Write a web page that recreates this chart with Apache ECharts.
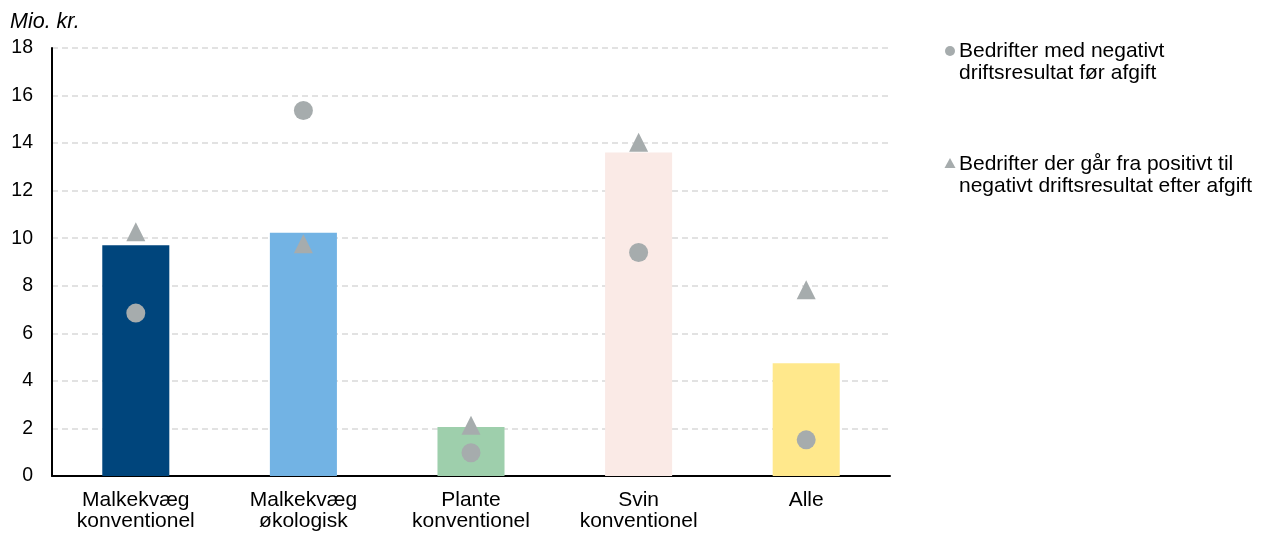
<!DOCTYPE html>
<html>
<head>
<meta charset="utf-8">
<script src="https://cdn.jsdelivr.net/npm/echarts@6/dist/echarts.min.js"></script>
<style>
html,body{margin:0;padding:0;background:#fff;}
#c{width:1263px;height:536px;}
</style>
</head>
<body>
<div id="c"></div>
<script>
const categories = ['Malkekvæg\nkonventionel', 'Malkekvæg\nøkologisk', 'Plante\nkonventionel', 'Svin\nkonventionel', 'Alle'];
const barValues = [9.70, 10.23, 2.06, 13.61, 4.74];
const barColors = ['#00457C', '#72B3E4', '#9ECFAC', '#FAEAE6', '#FFE88C'];
const negativeBefore = [6.85, 15.37, 0.98, 9.40, 1.52];
const posToNegAfter = [10.27, 9.77, 2.13, 14.04, 7.83];
const yTicks = [0, 2, 4, 6, 8, 10, 12, 14, 16, 18];
const seriesNames = ['Bedrifter med negativt\ndriftsresultat før afgift', 'Bedrifter der går fra positivt til\nnegativt driftsresultat efter afgift'];
const unitLabel = 'Mio. kr.';

const FONT = 'Liberation Sans, Arial, sans-serif';
const markerColor = '#A6ACAD';

const chart = echarts.init(document.getElementById('c'), null, {renderer: 'canvas'});
chart.setOption({
  animation: false,
  backgroundColor: '#ffffff',
  grid: {left: 52, right: 373, top: 48, bottom: 60, containLabel: false},
  xAxis: {
    type: 'category',
    data: categories,
    axisLine: {lineStyle: {color: '#000', width: 2}},
    axisTick: {show: false},
    axisLabel: {color: '#000', fontSize: 21, fontFamily: FONT, lineHeight: 21, margin: 14, interval: 0}
  },
  yAxis: {
    type: 'value',
    min: yTicks[0],
    max: yTicks[yTicks.length - 1],
    interval: 2,
    axisLine: {show: true, lineStyle: {color: '#000', width: 2}},
    axisTick: {show: false},
    axisLabel: {color: '#000', fontSize: 19.5, fontFamily: FONT, margin: 19},
    splitLine: {lineStyle: {color: '#D9D9D9', type: [6, 4], width: 1.5}}
  },
  series: [
    {
      type: 'bar',
      barWidth: '40%',
      data: barValues.map((v, i) => ({value: v, itemStyle: {color: barColors[i]}})),
      z: 2
    },
    {
      name: seriesNames[0],
      type: 'scatter',
      symbol: 'circle',
      symbolSize: 19,
      itemStyle: {color: markerColor, opacity: 1},
      data: negativeBefore,
      z: 3
    },
    {
      name: seriesNames[1],
      type: 'scatter',
      symbol: 'triangle',
      symbolSize: 19,
      itemStyle: {color: markerColor, opacity: 1},
      data: posToNegAfter,
      z: 3
    }
  ],
  graphic: [
    {type: 'text', left: 10, top: 11, style: {text: unitLabel, font: 'italic 21.5px ' + FONT, fill: '#000'}},
    {type: 'circle', shape: {cx: 950, cy: 51, r: 5}, style: {fill: markerColor}},
    {type: 'text', x: 959, y: 40, style: {text: seriesNames[0], font: '21px ' + FONT, fill: '#000', lineHeight: 22}},
    {type: 'polygon', shape: {points: [[950, 158], [955.5, 168], [944.5, 168]]}, style: {fill: markerColor}},
    {type: 'text', x: 959, y: 153, style: {text: seriesNames[1], font: '21px ' + FONT, fill: '#000', lineHeight: 22}}
  ]
});
</script>
</body>
</html>
